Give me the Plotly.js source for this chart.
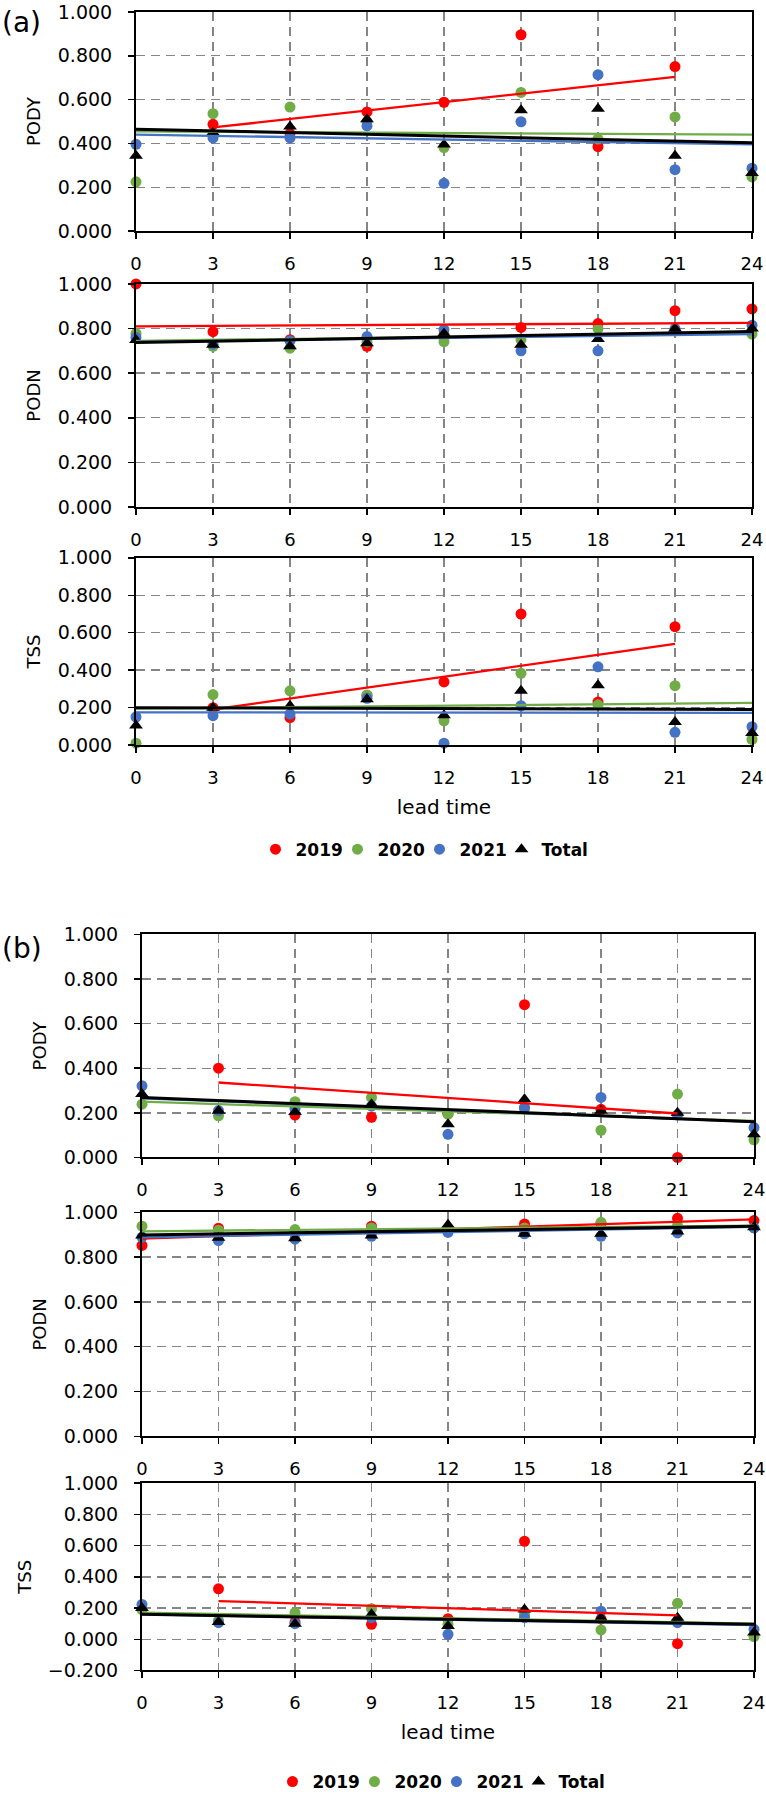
<!DOCTYPE html>
<html>
<head>
<meta charset="utf-8">
<script src="https://cdn.plot.ly/plotly-3.0.1.min.js"></script>
<style>body{margin:0;background:#fff}#chart{width:766px;height:1800px}</style>
</head>
<body>
<div id="chart"></div>
<script>
// ---------- data ----------
const leadTimes = [0, 3, 6, 9, 12, 15, 18, 21, 24];
const years = ['2019', '2020', '2021', 'Total'];

// (a) PODY
const a_PODY_2019  = [null, 0.487, 0.445, 0.544, 0.588, 0.896, 0.385, 0.751, null];
const a_PODY_2020  = [0.225, 0.536, 0.566, 0.500, 0.381, 0.633, 0.420, 0.521, 0.247];
const a_PODY_2021  = [0.396, 0.425, 0.425, 0.480, 0.218, 0.499, 0.714, 0.280, 0.287];
const a_PODY_Total = [0.344, 0.450, 0.477, 0.510, 0.395, 0.551, 0.558, 0.344, 0.265];
// trend lines: [x start, x end, y start, y end] for 2019, 2020, 2021, Total
const a_PODY_fit = [[3, 21, 0.473, 0.704], [0, 24, 0.455, 0.440], [0, 24, 0.440, 0.396], [0, 24, 0.465, 0.403]];

// (a) PODN
const a_PODN_2019  = [1.000, 0.786, 0.750, 0.720, 0.770, 0.805, 0.822, 0.880, 0.888];
const a_PODN_2020  = [0.778, 0.720, 0.712, 0.740, 0.741, 0.750, 0.800, 0.790, 0.775];
const a_PODN_2021  = [0.760, 0.730, 0.745, 0.764, 0.795, 0.700, 0.700, 0.800, 0.815];
const a_PODN_Total = [0.749, 0.727, 0.720, 0.734, 0.778, 0.727, 0.753, 0.800, 0.800];
const a_PODN_fit = [[0, 24, 0.810, 0.825], [0, 24, 0.745, 0.780], [0, 24, 0.740, 0.775], [0, 24, 0.737, 0.787]];

// (a) TSS
const a_TSS_2019  = [null, 0.200, 0.147, 0.265, 0.337, 0.700, 0.230, 0.632, null];
const a_TSS_2020  = [0.010, 0.270, 0.290, 0.267, 0.130, 0.383, 0.215, 0.317, 0.030];
const a_TSS_2021  = [0.150, 0.157, 0.166, 0.250, 0.010, 0.210, 0.418, 0.068, 0.098];
const a_TSS_Total = [0.105, 0.200, 0.210, 0.245, 0.160, 0.290, 0.320, 0.123, 0.065];
const a_TSS_fit = [[3, 21, 0.190, 0.540], [0, 24, 0.195, 0.225], [0, 24, 0.175, 0.172], [0, 24, 0.200, 0.190]];

// (b) PODY
const b_PODY_2019  = [null, 0.400, 0.190, 0.180, 0.195, 0.685, 0.216, 0.000, null];
const b_PODY_2020  = [0.239, 0.187, 0.250, 0.269, 0.194, 0.220, 0.122, 0.284, 0.079];
const b_PODY_2021  = [0.321, 0.210, 0.220, 0.230, 0.104, 0.224, 0.269, 0.190, 0.134];
const b_PODY_Total = [0.284, 0.209, 0.204, 0.239, 0.149, 0.261, 0.209, 0.200, 0.104];
const b_PODY_fit = [[3, 21, 0.336, 0.197], [0, 24, 0.250, 0.164], [0, 24, 0.265, 0.160], [0, 24, 0.269, 0.160]];

// (b) PODN
const b_PODN_2019  = [0.852, 0.929, 0.910, 0.938, 0.920, 0.948, 0.950, 0.973, 0.963];
const b_PODN_2020  = [0.938, 0.920, 0.923, 0.930, 0.925, 0.930, 0.955, 0.940, 0.930];
const b_PODN_2021  = [0.889, 0.874, 0.880, 0.893, 0.910, 0.904, 0.893, 0.908, 0.930];
const b_PODN_Total = [0.896, 0.886, 0.884, 0.896, 0.944, 0.904, 0.904, 0.914, 0.933];
const b_PODN_fit = [[0, 24, 0.883, 0.968], [0, 24, 0.915, 0.940], [0, 24, 0.888, 0.935], [0, 24, 0.899, 0.938]];

// (b) TSS
const b_TSS_2019  = [null, 0.323, 0.110, 0.096, 0.132, 0.628, 0.130, -0.028, null];
const b_TSS_2020  = [0.190, 0.120, 0.170, 0.196, 0.096, 0.160, 0.060, 0.230, 0.017];
const b_TSS_2021  = [0.223, 0.106, 0.100, 0.138, 0.032, 0.138, 0.180, 0.106, 0.064];
const b_TSS_Total = [0.200, 0.110, 0.100, 0.160, 0.085, 0.190, 0.138, 0.138, 0.043];
const b_TSS_fit = [[3, 21, 0.245, 0.153], [0, 24, 0.170, 0.100], [0, 24, 0.160, 0.090], [0, 24, 0.160, 0.096]];

const xTickLabels = ['0', '3', '6', '9', '12', '15', '18', '21', '24'];

// ---------- styling / layout ----------
const W = 766, H = 1800;
const FONT = 'DejaVu Sans, Verdana, sans-serif';
const colors = { '2019': '#FF0000', '2020': '#70AD47', '2021': '#4472C4', 'Total': '#000000' };

const panels = [
  { px: [136, 752], py: [12, 232],    yr: [0, 1],    title: 'PODY', s: [a_PODY_2019, a_PODY_2020, a_PODY_2021, a_PODY_Total], fit: a_PODY_fit, legend: 'legend',  showLeg: true,  xtitle: '' },
  { px: [136, 752], py: [285, 509],   yr: [0, 1],    title: 'PODN', s: [a_PODN_2019, a_PODN_2020, a_PODN_2021, a_PODN_Total], fit: a_PODN_fit, legend: 'legend',  showLeg: false, xtitle: '' },
  { px: [136, 752], py: [560, 748],   yr: [0, 1],    title: 'TSS',  s: [a_TSS_2019, a_TSS_2020, a_TSS_2021, a_TSS_Total],     fit: a_TSS_fit,  legend: 'legend',  showLeg: false, xtitle: 'lead time' },
  { px: [142, 754], py: [938, 1162],  yr: [0, 1],    title: 'PODY', s: [b_PODY_2019, b_PODY_2020, b_PODY_2021, b_PODY_Total], fit: b_PODY_fit, legend: 'legend2', showLeg: true,  xtitle: '' },
  { px: [142, 754], py: [1217, 1442], yr: [0, 1],    title: 'PODN', s: [b_PODN_2019, b_PODN_2020, b_PODN_2021, b_PODN_Total], fit: b_PODN_fit, legend: 'legend2', showLeg: false, xtitle: '' },
  { px: [142, 754], py: [1489, 1677], yr: [-0.2, 1], title: 'TSS',  s: [b_TSS_2019, b_TSS_2020, b_TSS_2021, b_TSS_Total],     fit: b_TSS_fit,  legend: 'legend2', showLeg: false, xtitle: 'lead time' }
];

const legendFont = { family: FONT, size: 17, weight: 'bold', color: '#000' };
const traces = [];
const layout = {
  width: W, height: H,
  margin: { l: 0, r: 0, t: 0, b: 0 },
  paper_bgcolor: '#ffffff', plot_bgcolor: '#ffffff',
  font: { family: FONT, color: '#000000', size: 18 },
  showlegend: true,
  legend: {
    orientation: 'h', x: 430 / W, xanchor: 'center', y: 1 - 853 / H, yanchor: 'middle',
    font: legendFont, bgcolor: 'rgba(0,0,0,0)', itemwidth: 30, entrywidth: 37, entrywidthmode: 'pixels', traceorder: 'normal'
  },
  legend2: {
    orientation: 'h', x: 447 / W, xanchor: 'center', y: 1 - 1789 / H, yanchor: 'middle',
    font: legendFont, bgcolor: 'rgba(0,0,0,0)', itemwidth: 30, entrywidth: 37, entrywidthmode: 'pixels', traceorder: 'normal'
  },
  annotations: [
    { text: '(a)', xref: 'paper', yref: 'paper', x: 0, y: 1 - 4 / H, xanchor: 'left', yanchor: 'top', showarrow: false, font: { family: FONT, size: 28 } },
    { text: '(b)', xref: 'paper', yref: 'paper', x: 0, y: 1 - 934 / H, xanchor: 'left', yanchor: 'top', showarrow: false, font: { family: FONT, size: 28 } }
  ]
};

panels.forEach((p, i) => {
  const n = i + 1;
  const sfx = n === 1 ? '' : String(n);
  const xa = 'x' + sfx, ya = 'y' + sfx;
  layout['xaxis' + sfx] = {
    domain: [p.px[0] / W, p.px[1] / W], anchor: ya, range: [0, 24],
    tickmode: 'array', tickvals: leadTimes, ticktext: xTickLabels,
    ticks: 'outside', ticklen: 6, tickwidth: 1.5, tickcolor: '#000', ticklabelstandoff: 9,
    ticklabeloverflow: 'allow',
    tickfont: { family: FONT, size: 18 },
    showline: true, linecolor: '#000', linewidth: 2, mirror: true,
    showgrid: true, gridcolor: '#858585', gridwidth: 1.4, griddash: '9px,6px',
    zeroline: false, automargin: false, fixedrange: true,
    title: { text: p.xtitle, font: { family: FONT, size: 20 }, standoff: 13 }
  };
  layout['yaxis' + sfx] = {
    domain: [1 - p.py[1] / H, 1 - p.py[0] / H], anchor: xa, range: p.yr,
    tick0: 0, dtick: 0.2, tickformat: '.3f',
    ticks: 'outside', ticklen: 6, tickwidth: 1.5, tickcolor: '#000', ticklabelstandoff: 12,
    ticklabeloverflow: 'allow',
    tickfont: { family: FONT, size: 19 },
    showline: true, linecolor: '#000', linewidth: 2, mirror: true,
    showgrid: true, gridcolor: '#858585', gridwidth: 1.4, griddash: '9px,6px',
    zeroline: false, automargin: false, fixedrange: true,
    title: { text: p.title, font: { family: FONT, size: 18 }, standoff: 12 }
  };
  // markers
  years.forEach((yr, k) => {
    const tr = {
      type: 'scatter', mode: 'markers', x: leadTimes, y: p.s[k], xaxis: xa, yaxis: ya,
      name: yr, legend: p.legend, showlegend: p.showLeg, legendgroup: p.legend + yr,
      cliponaxis: false,
      marker: { symbol: yr === 'Total' ? 'triangle-up' : 'circle', size: yr === 'Total' ? 12 : 11, color: colors[yr], line: { width: 0 } },
      hoverinfo: 'x+y+name'
    };
    if (yr === 'Total') tr.legendwidth = 58;
    traces.push(tr);
  });
  // trend lines
  years.forEach((yr, k) => {
    const f = p.fit[k];
    traces.push({
      type: 'scatter', mode: 'lines', x: [f[0], f[1]], y: [f[2], f[3]], xaxis: xa, yaxis: ya,
      name: yr + ' trend', legend: p.legend, showlegend: false, cliponaxis: false,
      line: { color: colors[yr], width: yr === 'Total' ? 3 : 2.3 }, hoverinfo: 'skip'
    });
  });
});

Plotly.newPlot('chart', traces, layout, { staticPlot: true, displayModeBar: false });
</script>
</body>
</html>
